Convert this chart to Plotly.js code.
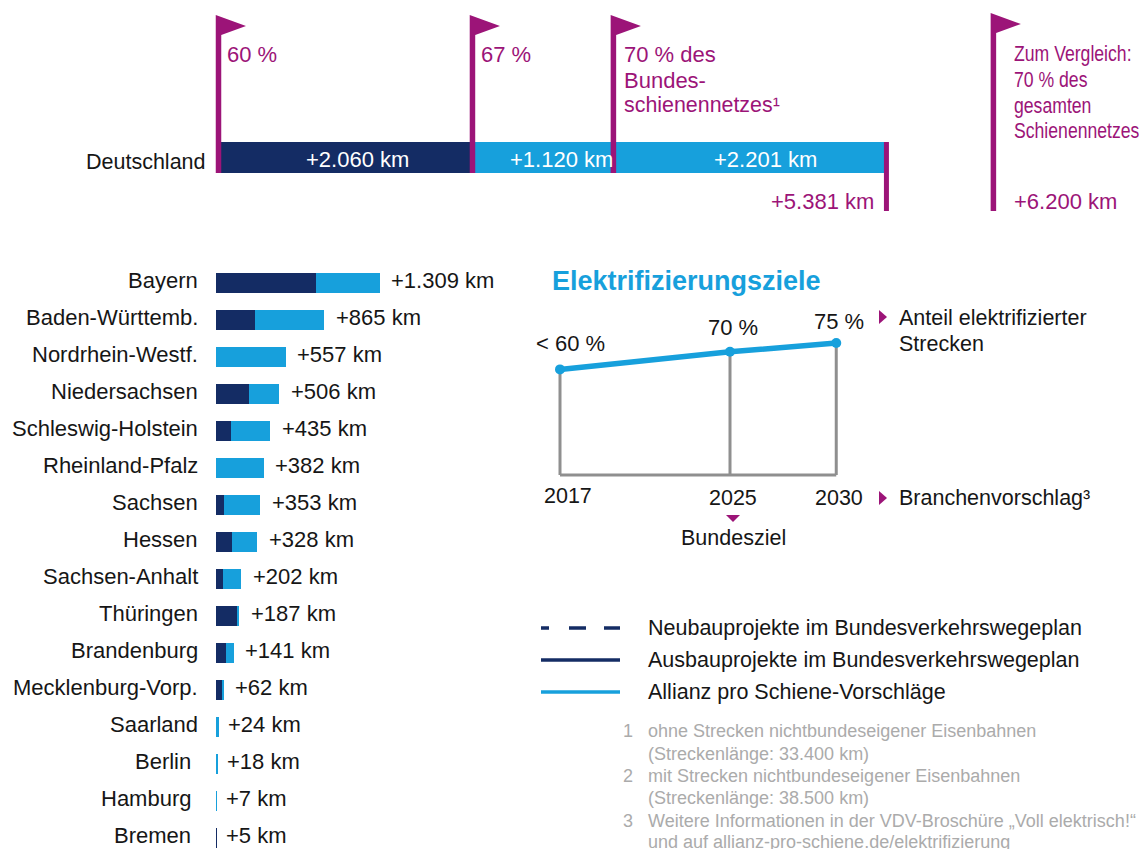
<!DOCTYPE html>
<html><head><meta charset="utf-8">
<script src="https://cdn.plot.ly/plotly-3.0.1.min.js"></script>
<style>html,body{margin:0;padding:0;background:#fff;overflow:hidden}#c{width:1139px;height:849px}</style>
</head><body><div id="c"></div>
<script>
// ---------- data ----------
const states = ["Bayern","Baden-Württemb.","Nordrhein-Westf.","Niedersachsen","Schleswig-Holstein","Rheinland-Pfalz","Sachsen","Hessen","Sachsen-Anhalt","Thüringen","Brandenburg","Mecklenburg-Vorp.","Saarland","Berlin","Hamburg","Bremen"];
const stateTotals = [1309,865,557,506,435,382,353,328,202,187,141,62,24,18,7,5];
const stateAusbau = [800,312,0,264,120,0,64,128,56,170,80,48,0,0,0,5];
const stateLabels = ["+1.309 km","+865 km","+557 km","+506 km","+435 km","+382 km","+353 km","+328 km","+202 km","+187 km","+141 km","+62 km","+24 km","+18 km","+7 km","+5 km"];
const topSegments = [2060,1120,2201];
const topLabels = ["+2.060 km","+1.120 km","+2.201 km"];
const flagKm = [0,2060,3180,6200];
const goalYears = [2017,2025,2030];
const goalShares = [60,70,75];
const goalLabels = ["< 60 %","70 %","75 %"];
const compareLines = ["Zum Vergleich:","70 % des","gesamten","Schienennetzes"];
const legendNames = ["Neubauprojekte im Bundesverkehrswegeplan","Ausbauprojekte im Bundesverkehrswegeplan","Allianz pro Schiene-Vorschläge"];
const footNums = ["1","","2","","3",""];
const footLines = ["ohne Strecken nichtbundeseigener Eisenbahnen","(Streckenlänge: 33.400 km)","mit Strecken nichtbundeseigener Eisenbahnen","(Streckenlänge: 38.500 km)","Weitere Informationen in der VDV-Broschüre „Voll elektrisch!“","und auf allianz-pro-schiene.de/elektrifizierung"];

// ---------- style ----------
const W=1139,H=849;
const NAVY="#142c64",BLUE="#17a0dc",PURPLE="#9c1478",GREY="#8f8f8f",FOOT="#ababab",INK="#161616";
const FONT="'Liberation Sans',Arial,sans-serif";
const SZ=21.5, SZ2=22;
const py=p=>1-p/H, px=p=>p/W;
const base={visible:false,domain:[0,1],fixedrange:true};
const linX=(p0,scale)=>[-p0/scale,(W-p0)/scale];
const linY=(p0,scale)=>[(p0-H)/scale,p0/scale];

// ---------- traces ----------
const stateBlue=stateTotals.map((t,i)=>t-stateAusbau[i]);
const cum=[0]; topSegments.forEach(v=>cum.push(cum[cum.length-1]+v));
const traces=[
 {type:"bar",orientation:"h",x:stateAusbau,y:states,marker:{color:NAVY},xaxis:"x",yaxis:"y",name:"Ausbau"},
 {type:"bar",orientation:"h",x:stateBlue,y:states,marker:{color:BLUE},xaxis:"x",yaxis:"y",name:"Allianz"},
];
topSegments.forEach((v,i)=>traces.push({type:"bar",orientation:"h",x:[v],y:["Deutschland"],marker:{color:i?BLUE:NAVY},xaxis:"x2",yaxis:"y2",width:1}));
goalYears.forEach((yr,i)=>traces.push({type:"scatter",mode:"lines",x:[yr,yr],y:[0,goalShares[i]],line:{color:GREY,width:3},xaxis:"x3",yaxis:"y3"}));
traces.push({type:"scatter",mode:"lines",x:[goalYears[0],goalYears[2]],y:[0,0],line:{color:GREY,width:3},xaxis:"x3",yaxis:"y3"});
traces.push({type:"scatter",mode:"lines+markers",x:goalYears,y:goalShares,line:{color:BLUE,width:5.5},marker:{color:BLUE,size:10},xaxis:"x3",yaxis:"y3"});

// ---------- annotations ----------
const A=[];
const T=(x,y,text,anchor,size,color)=>A.push({xref:"paper",yref:"paper",x:px(x),y:py(y),text,xanchor:anchor||"left",yanchor:"middle",align:anchor||"left",showarrow:false,borderpad:0,font:{size:size||SZ,color:color||INK,family:FONT}});
states.forEach((s,i)=>{
  A.push({xref:"x",yref:"y",x:0,y:s,text:s,xanchor:"right",yanchor:"middle",xshift:i>=13?-24.5:-17.5,yshift:3,showarrow:false,borderpad:0,font:{size:SZ2,color:INK,family:FONT}});
  A.push({xref:"x",yref:"y",x:stateTotals[i],y:s,text:stateLabels[i],xanchor:"left",yanchor:"middle",xshift:i>=12?8:10.5,yshift:3,showarrow:false,borderpad:0,font:{size:SZ2,color:INK,family:FONT}});
});
T(207,162,"Deutschland","right");
[13,19.5,17].forEach((dx,i)=>A.push({xref:"x2",yref:"paper",x:cum[i]+topSegments[i]/2,y:py(159),text:topLabels[i],xanchor:"center",yanchor:"middle",xshift:dx,showarrow:false,borderpad:0,font:{size:SZ2,color:"#fff",family:FONT}}));
T(226,54,"60 %","left",SZ2,PURPLE);
T(479.5,54,"67 %","left",SZ2,PURPLE);
T(623,54,"70 % des","left",SZ2,PURPLE);
T(623,80,"Bundes-","left",SZ2,PURPLE);
T(623,105,"schienennetzes¹","left",21.4,PURPLE);
const cmpY=[54,80,106,131];
compareLines.forEach((t,i)=>T(1013,cmpY[i],t,"left",SZ,PURPLE));
T(875,201,"+5.381 km","right",SZ2,PURPLE);
T(1013,201,"+6.200 km","left",SZ2,PURPLE);
A.push({xref:"paper",yref:"paper",x:px(551),y:py(281),text:"<b>Elektrifizierungsziele</b>",xanchor:"left",yanchor:"middle",showarrow:false,borderpad:0,font:{size:27,color:BLUE,family:FONT}});
T(570.5,343,goalLabels[0],"center",SZ2);T(733,327,goalLabels[1],"center",SZ2);T(838.5,321,goalLabels[2],"center",SZ2);
T(567.5,496,String(goalYears[0]),"center");T(733,498,String(goalYears[1]),"center");T(839,498,String(goalYears[2]),"center");
T(733,538,"Bundesziel","center");
T(898,318,"Anteil elektrifizierter");T(898,344,"Strecken");T(898,498,"Branchenvorschlag³");
legendNames.forEach((n,i)=>T(647,628+32*i,n));
const footY=[731,754,776,798,821,842];
footLines.forEach((l,i)=>{T(646.5,footY[i],l,"left",18,FOOT); if(footNums[i])T(622,footY[i],footNums[i],"left",18,FOOT);});

// ---------- shapes ----------
const S=[];
const nudges=[2.5,0,1.5,5.5], tops=[15,15,15,13], bottoms=[173,173,173,211];
flagKm.forEach((km,i)=>{
  const t=py(tops[i]),b=py(bottoms[i]),m=py(tops[i]+11),e=py(tops[i]+20),n=nudges[i];
  S.push({type:"path",xref:"x2",yref:"paper",xsizemode:"pixel",xanchor:km,fillcolor:PURPLE,line:{width:0},layer:"above",
    path:`M${n-2.75},${t} L${n+27.5},${m} L${n+2.75},${e} L${n+2.75},${b} L${n-2.75},${b} Z`});
});
S.push({type:"rect",xref:"x2",yref:"paper",xsizemode:"pixel",xanchor:cum[3],x0:-2,x1:3,y0:py(142),y1:py(211),fillcolor:PURPLE,line:{width:0},layer:"above"});
const tri=(pts)=>S.push({type:"path",xref:"paper",yref:"paper",fillcolor:PURPLE,line:{width:0},path:"M"+pts.map(p=>px(p[0])+","+py(p[1])).join(" L")+" Z"});
tri([[879,310],[887,317],[879,324]]);
tri([[879,491],[887,498],[879,505]]);
tri([[726,515],[740,515],[733,522]]);
[[NAVY,"8px,20px,17px,18px,16px"],[NAVY,"solid"],[BLUE,"solid"]].forEach((d,i)=>S.push({type:"line",xref:"paper",yref:"paper",x0:px(541),x1:px(620),y0:py(628+32*i),y1:py(628+32*i),line:{color:d[0],width:3.5,dash:d[1]}}));

// ---------- layout ----------
const layout={width:W,height:H,margin:{l:0,r:0,t:0,b:0},paper_bgcolor:"#fff",plot_bgcolor:"rgba(0,0,0,0)",showlegend:false,barmode:"stack",
 font:{family:FONT},hovermode:false,
 xaxis:{...base,range:linX(216,0.125),anchor:"y"},
 yaxis:{...base,type:"category",categoryorder:"array",categoryarray:states,range:[(H-283)/37,-283/37],anchor:"x"},
 xaxis2:{...base,range:linX(216,0.1245),anchor:"y2"},
 yaxis2:{...base,type:"category",range:[(H-157.5)/31,-157.5/31],anchor:"x2"},
 xaxis3:{...base,range:linX(560,21.25).map(v=>v+2017),anchor:"y3"},
 yaxis3:{...base,range:linY(475,1.76),anchor:"x3"},
 bargap:0.46,annotations:A,shapes:S};
Plotly.newPlot("c",traces,layout,{displayModeBar:false,staticPlot:true}).then(gd=>{
  // the comparison note is set in a condensed cut: squeeze its lines horizontally
  const squeeze=0.82;
  gd.querySelectorAll(".annotation-text").forEach(el=>{
    if(compareLines.includes(el.textContent) && el.getBoundingClientRect().left>1000){
      const b=el.getBBox();
      el.setAttribute("transform",`translate(${b.x},0) scale(${squeeze},1) translate(${-b.x},0)`);
    }
  });
});
</script></body></html>
